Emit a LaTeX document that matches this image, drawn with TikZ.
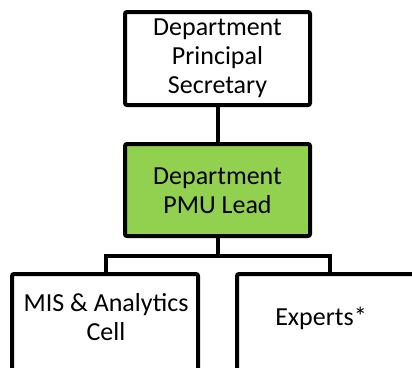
\documentclass[tikz,border=0pt]{standalone}
\usepackage{fontspec}
\setmainfont{Carlito}
\begin{document}
\begin{tikzpicture}[x=1pt,y=-1pt,
  box/.style={draw=black,line width=4pt,rounded corners=2pt},
  lbl/.style={align=center,font=\fontsize{26}{29}\selectfont,inner sep=0pt},
  conn/.style={line width=4pt}]
\useasboundingbox (0,0) rectangle (412,367);
\clip (0,0) rectangle (412,367);
\definecolor{pmugreen}{RGB}{146,208,80}
% boxes
\draw[box,fill=white] (125,12) rectangle (310,105);
\coordinate (topB) at (217.5,105);
\draw[box,fill=pmugreen] (125,144) rectangle (310,236);
\coordinate (midT) at (217.5,144);
\coordinate (midB) at (217.5,236);
\draw[box,fill=white] (12,274) rectangle (198,372);
\draw[box,fill=white] (237,274) rectangle (424,372);
\coordinate (lT) at (106,274);
\coordinate (rT) at (330,274);
\coordinate (bar) at (217.5,256);
% text
\node[lbl] (ps) at (217.5,58) {Department\\Principal\\Secretary};
\node[lbl] (pmu) at (217.5,191) {Department\\PMU Lead};
\node[lbl] (mis) at (106,317) {MIS \& Analytics\\Cell};
\node[lbl] (exp) at (321,318) {Experts*};
% connectors
\draw[conn] (topB) -- (midT);
\draw[conn] (midB) -- (bar);
\draw[conn,line join=miter] (lT) |- (bar) -| (rT);
\end{tikzpicture}
\end{document}
